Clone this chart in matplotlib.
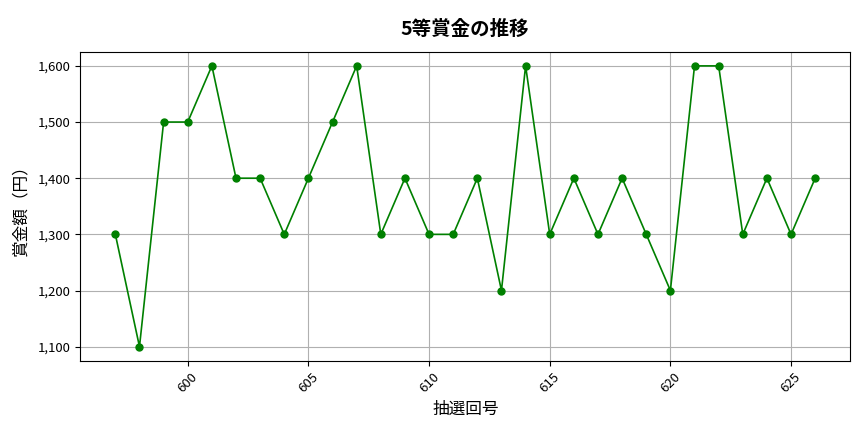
import matplotlib.pyplot as plt
import matplotlib.ticker as mticker

plt.rcParams['font.family'] = ['Noto Sans CJK JP', 'DejaVu Sans']

# 抽選回号と5等賞金
draws = list(range(597, 627))
prizes = [1300, 1100, 1500, 1500, 1600, 1400, 1400, 1300, 1400, 1500,
          1600, 1300, 1400, 1300, 1300, 1400, 1200, 1600, 1300, 1400,
          1300, 1400, 1300, 1200, 1600, 1600, 1300, 1400, 1300, 1400]

fig, ax = plt.subplots(figsize=(8.64, 4.32), dpi=100)
ax.plot(draws, prizes, color='green', marker='o', markersize=5, linewidth=1.2)

ax.set_title('5等賞金の推移', fontsize=14, fontweight='bold', pad=12)
ax.set_xlabel('抽選回号', fontsize=12, labelpad=4)
ax.set_ylabel('賞金額（円）', fontsize=12, labelpad=6)
ax.yaxis.set_major_formatter(mticker.FuncFormatter(lambda v, p: f'{int(v):,}'))
ax.xaxis.set_major_locator(mticker.MultipleLocator(5))
ax.tick_params(labelsize=9.5)
plt.setp(ax.get_xticklabels(), rotation=45)
ax.grid(True, color='#b0b0b0', linewidth=0.8)

fig.subplots_adjust(left=0.093, right=0.984, top=0.88, bottom=0.165)
plt.savefig('out.png', dpi=100)
